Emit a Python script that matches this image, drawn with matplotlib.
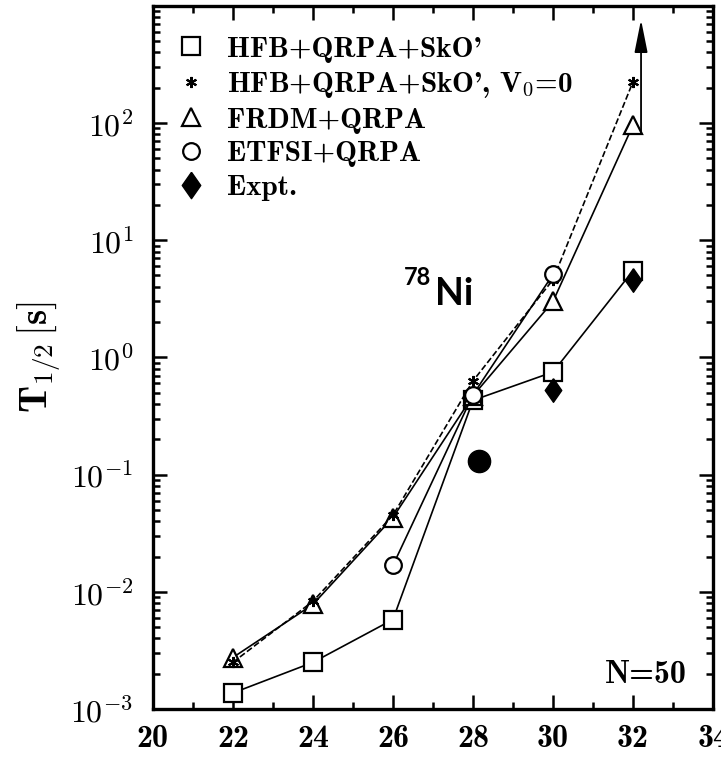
import math
import matplotlib
matplotlib.use("Agg")
import matplotlib.pyplot as plt
from matplotlib.lines import Line2D
from matplotlib.ticker import FixedLocator, FuncFormatter, LogLocator, NullFormatter

plt.rcParams['font.family'] = ['cmb10', 'DejaVu Serif']
plt.rcParams['mathtext.fontset'] = 'cm'
plt.rcParams['axes.unicode_minus'] = False

# half-lives of N=50 isotones vs proton number
Z = [22, 24, 26, 28, 30, 32]
hfb_sko = [1.37e-3, 2.5e-3, 5.8e-3, 0.43, 0.75, 5.5]
hfb_sko_v0 = [2.5e-3, 8.3e-3, 0.045, 0.63, 4.6, 225]
frdm = [2.75e-3, 7.8e-3, 0.043, 0.47, 3.0, 96]
Z_etfsi = [26, 28, 30]
etfsi = [0.0168, 0.48, 5.1]
Z_expt = [30, 32]
expt = [0.53, 4.6]
# 78Ni measurement
Z_ni78 = [28.15]
ni78_expt = [0.13]

fig = plt.figure(figsize=(7.21, 7.57), dpi=100)
ax = fig.add_axes([0.212, 0.0634, 0.777, 0.929])

ms = 13
mew = 1.6
lw = 1.2
diamond = [(0, 1), (0.7, 0), (0, -1), (-0.7, 0), (0, 1)]

ax.plot(Z, hfb_sko, '-', color='black', lw=lw, marker='s', ms=ms, mfc='white', mec='black', mew=mew, zorder=3)
ax.plot(Z, hfb_sko_v0, '--', color='black', lw=lw, marker=(6, 2, 0), ms=8, mec='black', mew=1.5, zorder=4)
ax.plot(Z, frdm, '-', color='black', lw=lw, marker='^', ms=ms, mfc='white', mec='black', mew=mew, zorder=3)
ax.plot(Z_etfsi, etfsi, '-', color='black', lw=lw, marker='o', ms=12, mfc='white', mec='black', mew=mew, zorder=5)
ax.plot(Z_expt, expt, 'none', marker=diamond, ms=17, mfc='black', mec='black', zorder=6)
ax.plot(Z_ni78, ni78_expt, 'none', marker='o', ms=16, mfc='black', mec='black', zorder=6)

# lower limit arrow for Z=32
ax.annotate('', xy=(32.2, 760), xytext=(32.2, 84),
            arrowprops=dict(arrowstyle='-|>,head_length=1.0,head_width=0.2',
                            color='black', lw=1.3, mutation_scale=20, shrinkA=0, shrinkB=0))

ax.set_yscale('log')
ax.set_xlim(20, 34)
ax.set_ylim(1e-3, 1e3)

ax.xaxis.set_major_locator(FixedLocator(range(20, 35, 2)))
ax.xaxis.set_minor_locator(FixedLocator(range(21, 34, 2)))
ax.yaxis.set_major_locator(FixedLocator([1e-3, 1e-2, 1e-1, 1e0, 1e1, 1e2]))
ax.yaxis.set_minor_locator(LogLocator(base=10, subs=range(2, 10)))
ax.yaxis.set_minor_formatter(NullFormatter())
ax.yaxis.set_major_formatter(FuncFormatter(lambda v, p: r'$\mathbf{10^{%d}}$' % round(math.log10(v))))

ax.tick_params(which='both', direction='in', top=True, right=True, width=1.8)
ax.tick_params(which='major', length=10)
ax.tick_params(which='minor', length=5)
ax.tick_params(axis='x', labelsize=23, pad=11)
ax.tick_params(axis='y', labelsize=23, pad=14)
for s in ax.spines.values():
    s.set_linewidth(2.4)

ax.set_ylabel(r'$\mathbf{T}_{\mathbf{1/2}}\,\mathbf{[s]}$', fontsize=28, labelpad=5)

handles = [
    Line2D([], [], ls='none', marker='s', ms=ms, mfc='white', mec='black', mew=mew),
    Line2D([], [], ls='none', marker=(6, 2, 0), ms=8, mec='black', mew=1.5),
    Line2D([], [], ls='none', marker='^', ms=ms, mfc='white', mec='black', mew=mew),
    Line2D([], [], ls='none', marker='o', ms=12, mfc='white', mec='black', mew=mew),
    Line2D([], [], ls='none', marker=diamond, ms=19, mfc='black', mec='black'),
]
labels = ["HFB+QRPA+SkO'", "HFB+QRPA+SkO', V$_\\mathbf{0}$=0", "FRDM+QRPA", "ETFSI+QRPA", "Expt."]
ax.legend(handles, labels, loc='upper left', bbox_to_anchor=(0.0, 0.99), frameon=False,
          fontsize=21, handlelength=1.0, handletextpad=0.75, labelspacing=0.25, borderaxespad=0.4)

ax.text(26.95, 4.15, '78', fontsize=17, family='Lato', weight='bold', ha='right', va='baseline')
ax.text(27.05, 2.8, 'Ni', fontsize=27, family='Lato', weight='bold', ha='left', va='baseline')
ax.text(33.35, 1.67e-3, 'N=50', fontsize=23, ha='right', va='baseline')

fig.savefig('out.png', dpi=100)
